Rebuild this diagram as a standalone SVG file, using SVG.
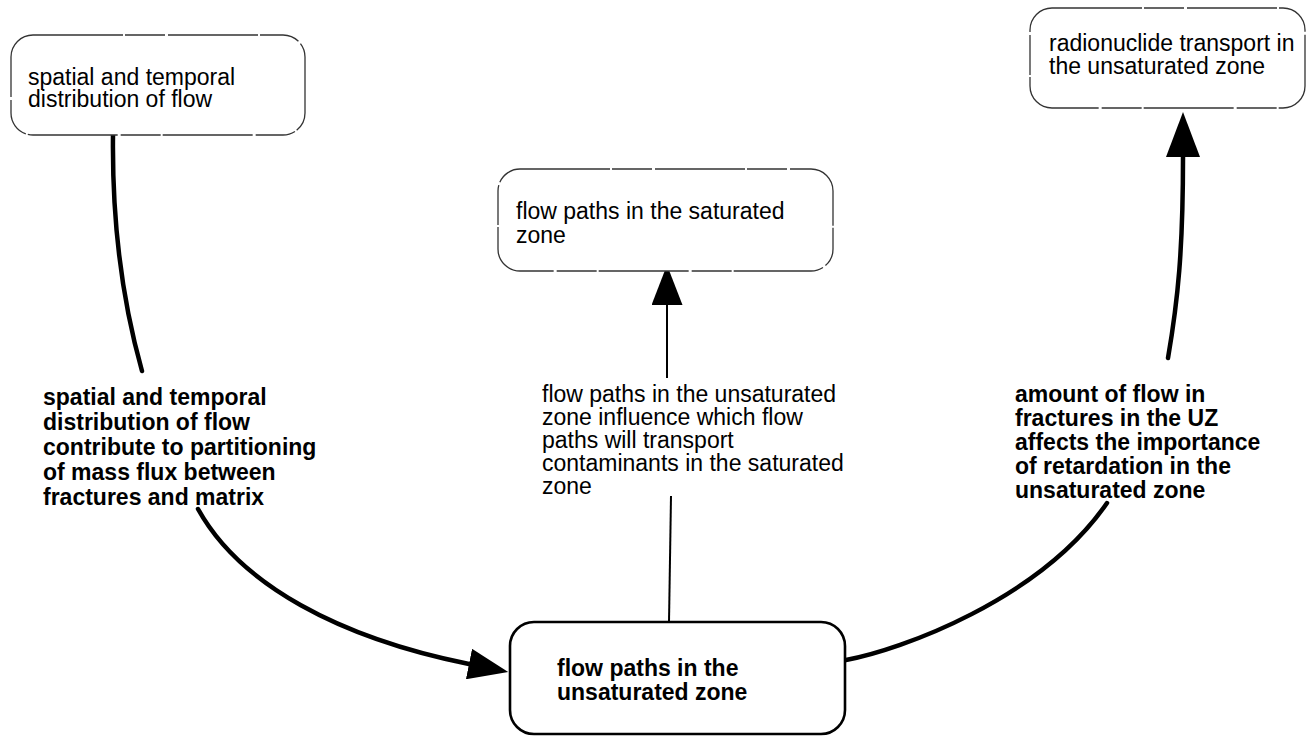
<svg xmlns="http://www.w3.org/2000/svg" width="1307" height="737" viewBox="0 0 1307 737">
<defs>
<style>
.box{fill:#fff;stroke:#333;stroke-width:1.3;stroke-dasharray:90 2 40 3}
.boxb{fill:#fff;stroke:#000;stroke-width:2.6}
.t{font-family:"Liberation Sans",Arial,sans-serif;font-size:23px;fill:#000}
.b{font-family:"Liberation Sans",Arial,sans-serif;font-size:23px;font-weight:bold;fill:#000}
.thick{fill:none;stroke:#000;stroke-width:4.5;stroke-linecap:round}
.thin{fill:none;stroke:#000;stroke-width:2}
</style>
<marker id="ah" markerUnits="userSpaceOnUse" markerWidth="40" markerHeight="31" viewBox="0 0 40 31" refX="0" refY="15.5" orient="auto">
<path d="M0,0 L40,15.5 L0,31 Z" fill="#000"/>
</marker>
<marker id="ahL" markerUnits="userSpaceOnUse" markerWidth="45" markerHeight="34" viewBox="0 0 45 34" refX="0" refY="17" orient="auto">
<path d="M0,0 L45,17 L0,34 Z" fill="#000"/>
</marker>
</defs>
<rect width="1307" height="737" fill="#fff"/>
<g id="connectors">
<path class="thick" d="M113,135 C112,220 122,300 142,371"/>
<path class="thick" d="M198,509 C240,585 340,638 469,664" marker-end="url(#ah)"/>
<path class="thin" d="M669,622 L671,496"/>
<path class="thin" d="M667,378 L667,305" marker-end="url(#ah)"/>
<path class="thick" d="M846,660 C900,650 1040,600 1107,503"/>
<path class="thick" d="M1168,358 C1178,300 1183,250 1183,157" marker-end="url(#ahL)"/>
</g>
<g id="label-left">
<text class="b" x="43" y="405">spatial and temporal</text>
<text class="b" x="43" y="430">distribution of flow</text>
<text class="b" x="43" y="455">contribute to partitioning</text>
<text class="b" x="43" y="480">of mass flux between</text>
<text class="b" x="43" y="505">fractures and matrix</text>
</g>
<g id="label-middle">
<text class="t" x="542" y="402">flow paths in the unsaturated</text>
<text class="t" x="542" y="425">zone influence which flow</text>
<text class="t" x="542" y="448">paths will transport</text>
<text class="t" x="542" y="471">contaminants in the saturated</text>
<text class="t" x="542" y="494">zone</text>
</g>
<g id="label-right">
<text class="b" x="1015" y="402">amount of flow in</text>
<text class="b" x="1015" y="426">fractures in the UZ</text>
<text class="b" x="1015" y="450">affects the importance</text>
<text class="b" x="1015" y="474">of retardation in the</text>
<text class="b" x="1015" y="498">unsaturated zone</text>
</g>
<g id="node-spatial">
<rect class="box" x="11" y="35" width="294" height="100" rx="22"/>
<text class="t" x="28" y="85">spatial and temporal</text>
<text class="t" x="28" y="107">distribution of flow</text>
</g>
<g id="node-saturated">
<rect class="box" x="498" y="169" width="335" height="102" rx="22"/>
<text class="t" x="516" y="219">flow paths in the saturated</text>
<text class="t" x="516" y="243">zone</text>
</g>
<g id="node-radionuclide">
<rect class="box" x="1030" y="8" width="275" height="100" rx="22"/>
<text class="t" x="1049" y="51">radionuclide transport in</text>
<text class="t" x="1049" y="74">the unsaturated zone</text>
</g>
<g id="node-unsaturated">
<rect class="boxb" x="510" y="622" width="335" height="112" rx="24"/>
<text class="b" x="557" y="676">flow paths in the</text>
<text class="b" x="557" y="700">unsaturated zone</text>
</g>
</svg>
